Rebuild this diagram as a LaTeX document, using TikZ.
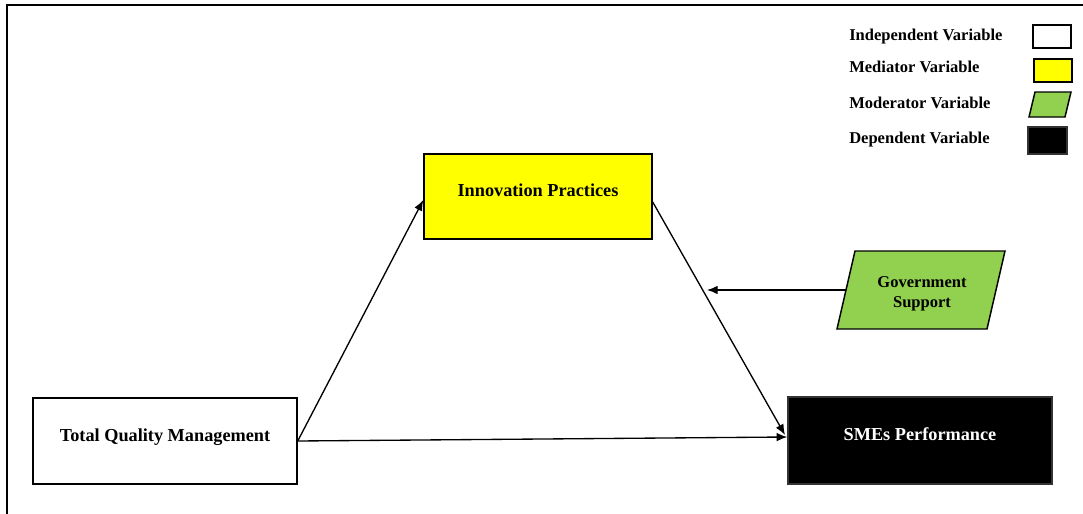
\documentclass[tikz,border=0pt]{standalone}
\usepackage{fontspec}
\setmainfont{Liberation Serif}
\usetikzlibrary{arrows.meta}
\definecolor{ipyellow}{RGB}{255,255,0}
\definecolor{gsgreen}{RGB}{146,208,80}
\tikzset{
  varbox/.style={draw=black, line width=1.1pt, font=\fontsize{13.7}{16}\selectfont\bfseries, inner sep=0pt},
  legtext/.style={anchor=west, font=\fontsize{12.4}{14}\selectfont\bfseries, inner sep=0pt},
  legbox/.style={draw=black, line width=1.1pt},
  conn/.style={line width=1pt, -{Latex[length=8pt,width=6.5pt]}},
  frame/.style={line width=1.5pt}
}
\begin{document}
\begin{tikzpicture}[x=0.75pt,y=-0.75pt]
\useasboundingbox (0,0) rectangle (1083,514);
% frame
\draw[frame] (7,514) -- (7,5) -- (1083,5);
% main boxes
\node[varbox, fill=white, minimum width=264*0.75pt, minimum height=86*0.75pt] (tqm) at (165,441) {\raisebox{9.5pt}{Total Quality Management}};
\node[varbox, fill=ipyellow, minimum width=228*0.75pt, minimum height=85*0.75pt] (ip) at (538,196.5) {\raisebox{9.5pt}{Innovation Practices}};
\node[varbox, fill=black, text=white, draw=black!80, minimum width=264*0.75pt, minimum height=87*0.75pt] (sme) at (920,440.5) {\raisebox{9.5pt}{SMEs Performance}};
% government support parallelogram
\coordinate (gsTL) at (855,251);
\coordinate (gsTR) at (1005,251);
\coordinate (gsBR) at (987,329);
\coordinate (gsBL) at (837,329);
\draw[fill=gsgreen, line width=1.1pt] (gsTL) -- (gsTR) -- (gsBR) -- (gsBL) -- cycle;
\node[font=\fontsize{12.4}{15}\selectfont\bfseries, align=center, inner sep=0pt] (gs) at (922,293.5) {Government\\Support};
\coordinate (gsL) at (846,290);
\coordinate (mid) at (707,290);
% connectors
\draw[conn] (tqm.east) -- (ip.west |- 0,200);
\draw[conn] (tqm.east) -- (sme.west |- 0,437);
\draw[conn] (ip.east |- 0,202) -- (785,435);
\draw[conn] (gsL) -- (mid);
% legend
\node[legtext] (l1) at (849,37) {Independent Variable};
\node[legtext] (l2) at (849,67) {Mediator Variable};
\node[legtext] (l3) at (849,103) {Moderator Variable};
\node[legtext] (l4) at (849,140) {Dependent Variable};
\draw[legbox, fill=white] (1033,25) rectangle (1071,48);
\draw[legbox, fill=ipyellow] (1034,59) rectangle (1072,82);
\draw[legbox, fill=gsgreen] (1035,92) -- (1071,92) -- (1065,117) -- (1029,117) -- cycle;
\draw[legbox, fill=black, draw=black!80] (1028,127) rectangle (1067,154);
\end{tikzpicture}
\end{document}
